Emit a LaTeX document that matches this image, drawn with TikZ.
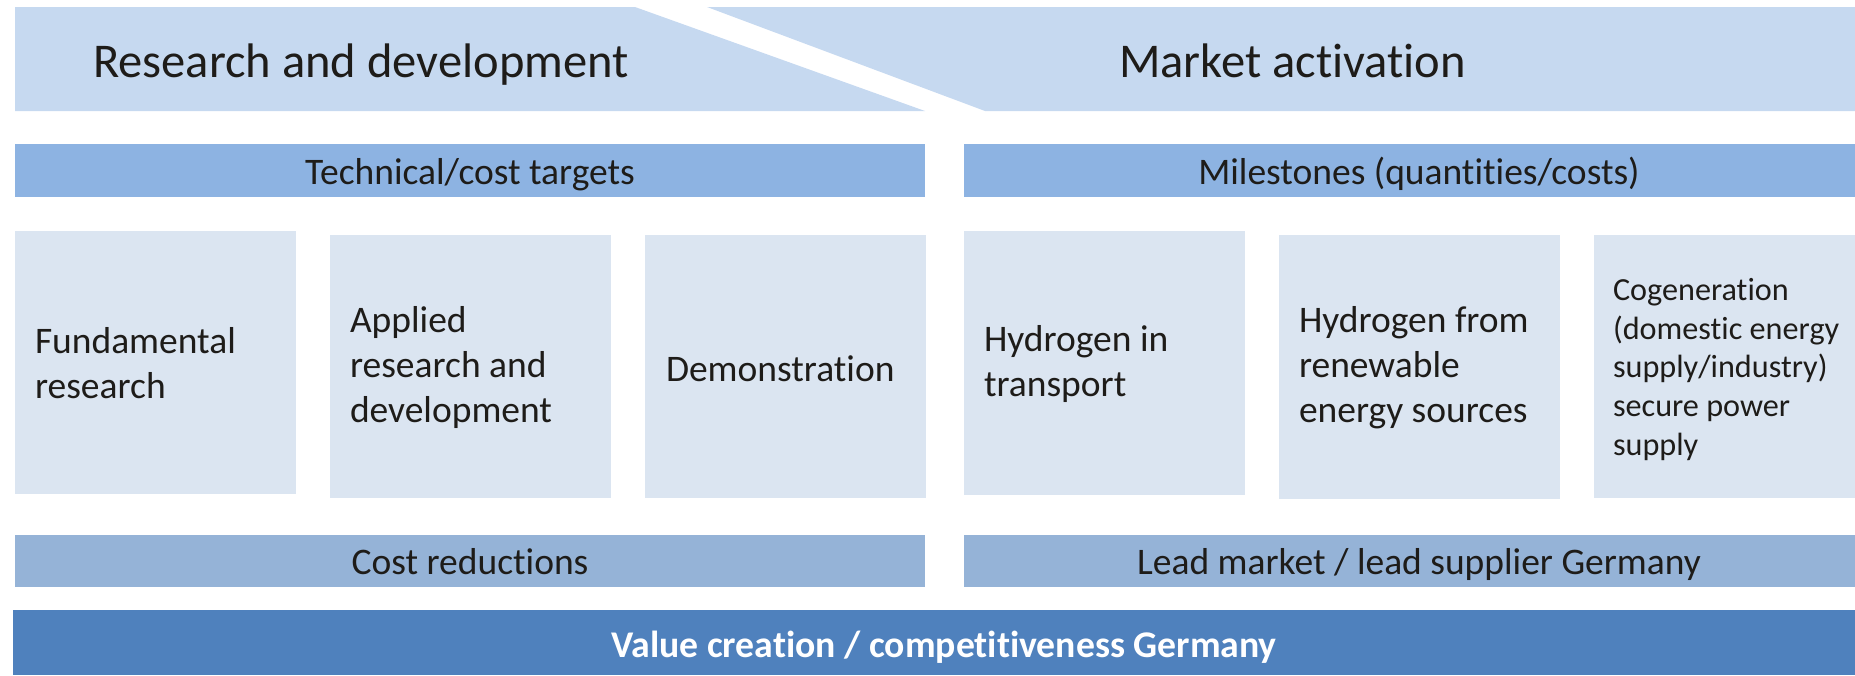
\documentclass[tikz,border=0pt]{standalone}
\usepackage{fontspec}
\setmainfont{Carlito}[Ligatures={NoCommon}]
\definecolor{topband}{HTML}{C6D9F0}
\definecolor{midbar}{HTML}{8DB3E2}
\definecolor{boxfill}{HTML}{DBE5F1}
\definecolor{lowbar}{HTML}{95B3D7}
\definecolor{valbar}{HTML}{4F81BD}
\definecolor{ink}{HTML}{1E1C19}
\tikzset{
  band/.style={fill=topband, draw=none},
  headtext/.style={anchor=base west, inner sep=0, text=ink, font=\fontsize{48.5}{58}\selectfont},
  bar/.style={rectangle, draw=none, inner sep=0, minimum height=53, text height=27pt, text depth=0pt, text=ink, font=\fontsize{37.5}{45}\selectfont},
  stepbox/.style={rectangle, draw=none, fill=boxfill, inner sep=0},
  boxtext/.style={anchor=west, inner sep=0, align=left, text=ink, font=\fontsize{37.5}{45}\selectfont},
  smalltext/.style={anchor=west, inner sep=0, align=left, text=ink, font=\fontsize{32.2}{38.8}\selectfont},
}
\begin{document}
\begin{tikzpicture}[x=1pt, y=-1pt]
\useasboundingbox (0,0) rectangle (1855,675);
% top bands
\fill[band] (15,7) -- (635,7) -- (925,111) -- (15,111) -- cycle;
\fill[band] (707,7) -- (1880,7) -- (1880,111) -- (985,111) -- cycle;
\node[headtext] (rd) at (93,77) {Research and development};
\node[headtext] (ma) at (1119,77) {Market activation};
% second row bars
\node[bar, fill=midbar, minimum width=910] (tech) at (470,170.5) {Technical/cost targets};
\node[bar, fill=midbar, minimum width=910] (mile) at (1419,170.5) {Milestones (quantities/costs)};
% boxes
\node[stepbox, minimum width=281, minimum height=263] (fund) at (155.5,362.5) {};
\node[stepbox, minimum width=281, minimum height=263] (appl) at (470.5,366.5) {};
\node[stepbox, minimum width=281, minimum height=263] (demo) at (785.5,366.5) {};
\node[stepbox, minimum width=281, minimum height=264] (trans) at (1104.5,363) {};
\node[stepbox, minimum width=281, minimum height=264] (renew) at (1419.5,367) {};
\node[stepbox, minimum width=281, minimum height=263] (cogen) at (1734.5,366.5) {};
\node[boxtext] (t1) at ([xshift=20pt,yshift=-1pt]fund.west) {Fundamental\\research};
\node[boxtext] (t2) at ([xshift=20pt,yshift=-1pt]appl.west) {Applied\\research and\\development};
\node[boxtext] (t3) at ([xshift=21pt,yshift=-2pt]demo.west) {Demonstration};
\node[boxtext] (t4) at ([xshift=20pt,yshift=-1pt]trans.west) {Hydrogen in\\transport};
\node[boxtext] (t5) at ([xshift=20pt,yshift=-1pt]renew.west) {Hydrogen from\\renewable\\energy sources};
\node[smalltext] (t6) at ([xshift=19pt,yshift=-3pt]cogen.west) {Cogeneration\\(domestic energy\\supply/industry)\\secure power\\supply};
% lower bars
\node[bar, fill=lowbar, minimum width=910, minimum height=52] (cost) at (470,561) {Cost reductions};
\node[bar, fill=lowbar, minimum width=910, minimum height=52] (lead) at (1419,561) {Lead market / lead supplier Germany};
\node[bar, fill=valbar, minimum width=1862, minimum height=65, text height=30pt, text=white, font=\fontsize{37.7}{45}\selectfont\bfseries] (val) at (944,642.5) {Value creation / competitiveness Germany};
\end{tikzpicture}
\end{document}
